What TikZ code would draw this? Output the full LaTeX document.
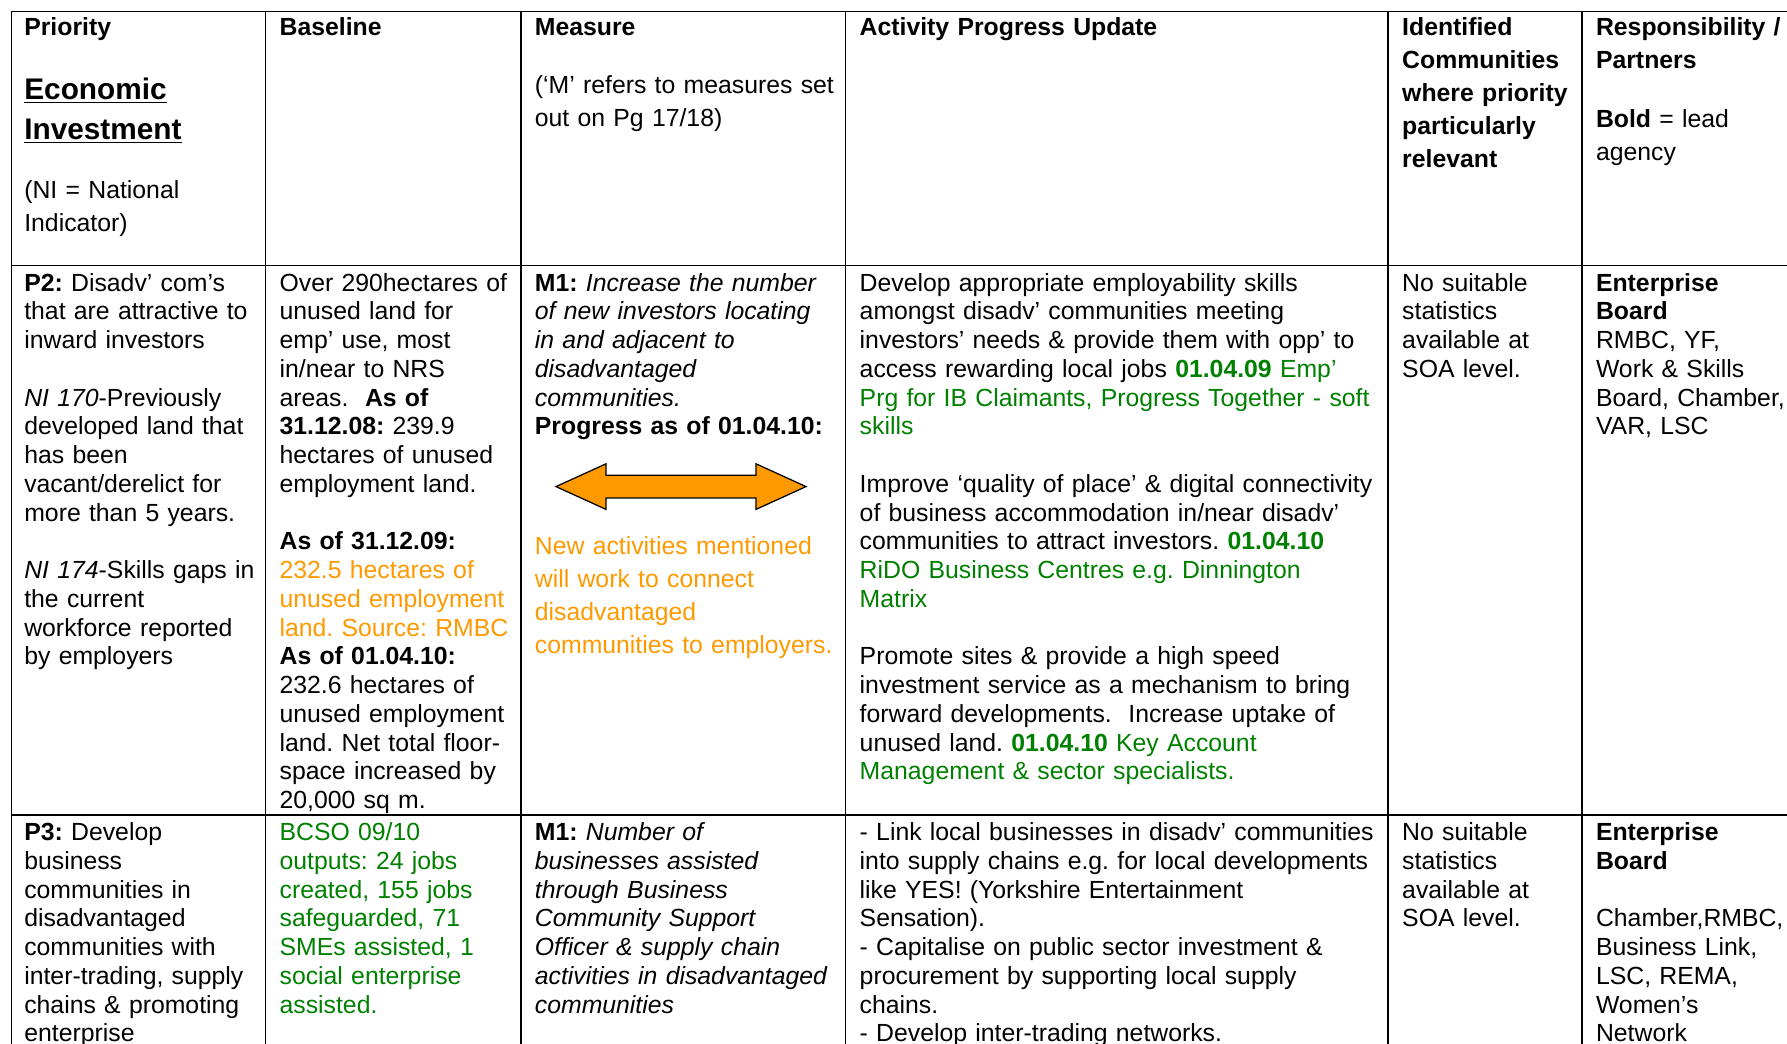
\documentclass[tikz,border=0pt]{standalone}
\usepackage{fontspec}
\setmainfont{Liberation Sans}
\usepackage{tikz}
\usetikzlibrary{calc}
\definecolor{plangreen}{RGB}{0,128,0}
\definecolor{planorange}{RGB}{255,153,0}
\frenchspacing

\begin{document}
\begin{tikzpicture}[x=0.48pt, y=-0.48pt,
    cell/.style={anchor=base west, inner sep=0pt, align=left, text width=250pt,
      font=\fontsize{11.9}{13.8}\selectfont},
    head/.style={cell, font=\fontsize{11.9}{15.84}\selectfont\bfseries},
    rule/.style={line width=0.8pt}]
  \useasboundingbox (0,0) rectangle (1787,1044);
  \clip (0,0) rectangle (1787,1044);

  % grid
  \draw[rule] (1787,11.4) -- (11.4,11.4) -- (11.4,1044);
  \draw[rule] (11.4,265.5) -- (1787,265.5);
  \draw[rule] (11.4,814.9) -- (1787,814.9);
  \foreach \x in {265.5,520.8,845.6,1388.2,1581.9}
    \draw[rule] (\x,11.4) -- (\x,1044);

  % header row
  \node[head] (priority) at (23.9,35.9) {Priority};
  \node[cell, font=\fontsize{14.3}{19.2}\selectfont\bfseries] (theme) at (23.9,99.5)
    {\underline{Economic}\\\underline{Investment}};
  \node[cell, font=\fontsize{11.9}{15.84}\selectfont] (nikey) at (23.9,198.9)
    {(NI = National\\Indicator)};
  \node[head] (baseline) at (279.2,35.9) {Baseline};
  \node[head] (measure) at (534.5,35.9) {Measure};
  \node[cell, font=\fontsize{11.9}{15.84}\selectfont] (mkey) at (534.5,94)
    {(`M' refers to measures set\\out on Pg 17/18)};
  \node[head] (update) at (859.3,35.9) {Activity Progress Update};
  \node[head] (communities) at (1401.8,35.9)
    {Identified\\Communities\\where priority\\particularly\\relevant};
  \node[head] (partners) at (1595.6,35.9) {Responsibility /\\Partners};
  \node[cell, font=\fontsize{11.9}{15.84}\selectfont] (boldkey) at (1595.6,127.1)
    {\textbf{Bold} = lead\\agency};

  % P2 row
  \node[cell] (ptwo) at (23.9,291.2)
    {\textbf{P2:} Disadv' com's\\
     that are attractive to\\
     inward investors\\[13.8pt]
     \textit{NI 170}-Previously\\
     developed land that\\
     has been\\
     vacant/derelict for\\
     more than 5 years.\\[13.8pt]
     \textit{NI 174}-Skills gaps in\\
     the current\\
     workforce reported\\
     by employers};
  \node[cell] (landbase) at (279.2,291.2)
    {Over 290hectares of\\
     unused land for\\
     emp' use, most\\
     in/near to NRS\\
     areas.\ \ \textbf{As of}\\
     \textbf{31.12.08:} 239.9\\
     hectares of unused\\
     employment land.\\[13.8pt]
     \textbf{As of 31.12.09:}\\
     \textcolor{planorange}{232.5 hectares of\\
     unused employment\\
     land. Source: RMBC}\\
     \textbf{As of 01.04.10:}\\
     232.6 hectares of\\
     unused employment\\
     land. Net total floor-\\
     space increased by\\
     20,000 sq m.};
  \node[cell] (mone) at (534.5,291.2)
    {\textbf{M1:} \textit{Increase the number}\\
     \textit{of new investors locating}\\
     \textit{in and adjacent to}\\
     \textit{disadvantaged}\\
     \textit{communities.}\\
     \textbf{Progress as of 01.04.10:}};
  \draw[fill=planorange, line width=0.6pt]
    (556,486.6) -- (606,463.8) -- (606,475.2) -- (756,475.2) -- (756,463.8)
    -- (806,486.6) -- (756,509.4) -- (756,498) -- (606,498) -- (606,509.4) -- cycle;
  \node[cell, font=\fontsize{11.9}{15.84}\selectfont, text=planorange] (newact) at (534.5,554.4)
    {New activities mentioned\\
     will work to connect\\
     disadvantaged\\
     communities to employers.};
  \node[cell, text width=300pt] (develop) at (859.3,291.2)
    {Develop appropriate employability skills\\
     amongst disadv' communities meeting\\
     investors' needs \& provide them with opp' to\\
     access rewarding local jobs \textcolor{plangreen}{\textbf{01.04.09} Emp'\\
     Prg for IB Claimants, Progress Together - soft\\
     skills}\\[13.8pt]
     Improve `quality of place' \& digital connectivity\\
     of business accommodation in/near disadv'\\
     communities to attract investors. \textcolor{plangreen}{\textbf{01.04.10}\\
     RiDO Business Centres e.g. Dinnington\\
     Matrix}\\[13.8pt]
     Promote sites \& provide a high speed\\
     investment service as a mechanism to bring\\
     forward developments.\ \ Increase uptake of\\
     unused land. \textcolor{plangreen}{\textbf{01.04.10} Key Account\\
     Management \& sector specialists.}};
  \node[cell] (nostats) at (1401.8,291.2)
    {No suitable\\statistics\\available at\\SOA level.};
  \node[cell] (leadtwo) at (1595.6,291.2)
    {\textbf{Enterprise}\\\textbf{Board}\\RMBC, YF,\\Work \& Skills\\Board, Chamber,\\VAR, LSC};

  % P3 row
  \node[cell] (pthree) at (23.9,840.5)
    {\textbf{P3:} Develop\\
     business\\
     communities in\\
     disadvantaged\\
     communities with\\
     inter-trading, supply\\
     chains \& promoting\\
     enterprise};
  \node[cell, text=plangreen] (bcso) at (279.2,840.5)
    {BCSO 09/10\\
     outputs: 24 jobs\\
     created, 155 jobs\\
     safeguarded, 71\\
     SMEs assisted, 1\\
     social enterprise\\
     assisted.};
  \node[cell] (mthree) at (534.5,840.5)
    {\textbf{M1:} \textit{Number of}\\
     \textit{businesses assisted}\\
     \textit{through Business}\\
     \textit{Community Support}\\
     \textit{Officer \& supply chain}\\
     \textit{activities in disadvantaged}\\
     \textit{communities}};
  \node[cell, text width=300pt] (supply) at (859.3,840.5)
    {- Link local businesses in disadv' communities\\
     into supply chains e.g. for local developments\\
     like YES! (Yorkshire Entertainment\\
     Sensation).\\
     - Capitalise on public sector investment \&\\
     procurement by supporting local supply\\
     chains.\\
     - Develop inter-trading networks.};
  \node[cell] (nostatsb) at (1401.8,840.5)
    {No suitable\\statistics\\available at\\SOA level.};
  \node[cell] (leadthree) at (1595.6,840.5)
    {\textbf{Enterprise}\\\textbf{Board}\\[13.8pt]Chamber,RMBC,\\Business Link,\\LSC, REMA,\\Women's\\Network};
\end{tikzpicture}
\end{document}
